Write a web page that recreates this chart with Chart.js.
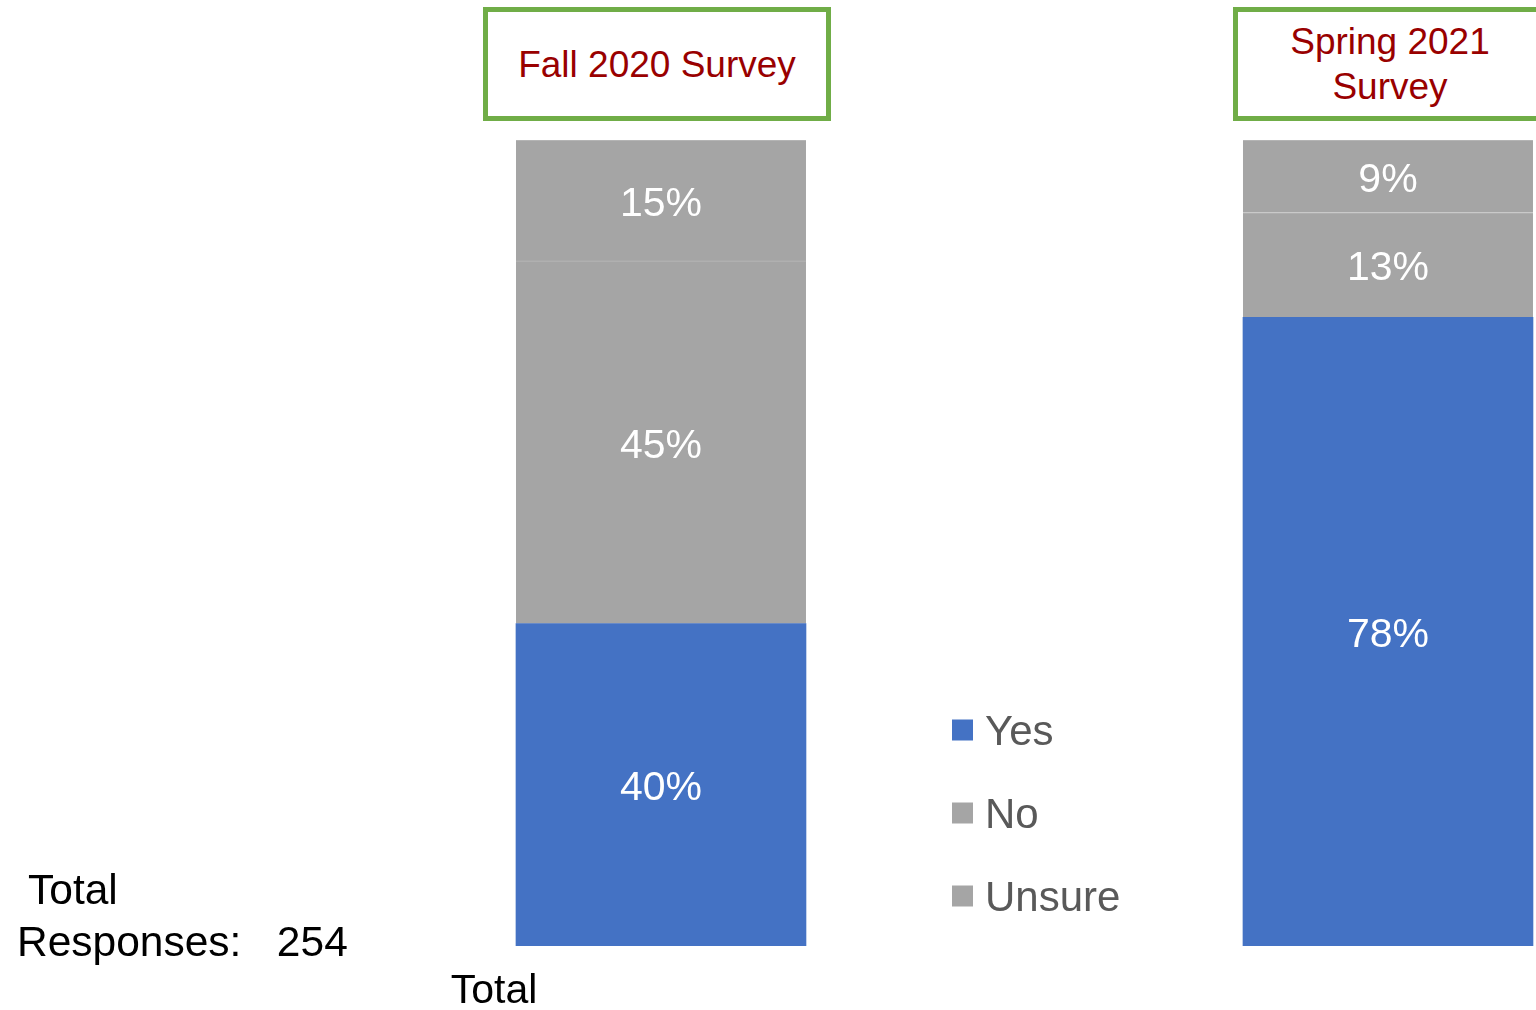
<!DOCTYPE html>
<html>
<head>
<meta charset="utf-8">
<script src="https://cdn.jsdelivr.net/npm/chart.js@4.4.1/dist/chart.umd.min.js"></script>
<style>
  html, body { margin: 0; padding: 0; background: #fff; overflow: hidden; }
  body { width: 1536px; height: 1010px; position: relative; font-family: "Liberation Sans", Arial, sans-serif; }
  #chart { position: absolute; left: 0; top: 0; }
  .survey {
    position: absolute; top: 7px; height: 114px; box-sizing: border-box;
    border: 5px solid #70ad47; background: #fff; color: #990000;
    font-size: 37px; line-height: 45px; text-align: center;
    display: flex; align-items: center; justify-content: center;
  }
  #fall { left: 483px; width: 348px; }
  #spring { left: 1233px; width: 314px; }
  #responses { position: absolute; left: 17px; top: 864px; font-size: 42.5px; line-height: 52px; white-space: pre; color: #000; }
</style>
</head>
<body>
<canvas id="chart" width="1536" height="1010"></canvas>
<div class="survey" id="fall"></div>
<div class="survey" id="spring"></div>
<div id="responses"></div>
<script>
const surveys = ['Fall 2020 Survey', 'Spring 2021 Survey'];
const answers = ['Yes', 'No', 'Unsure'];
const yesPct = [40, 78];
const noPct = [45, 13];
const unsurePct = [15, 9];
const axisLabel = 'Total';
const totalResponses = 254;

const FONT = '"Liberation Sans", Arial, sans-serif';
const colors = ['#4472c4', '#a5a5a5', '#a5a5a5'];
const series = [yesPct, noPct, unsurePct];

document.getElementById('fall').textContent = surveys[0];
document.getElementById('spring').textContent = surveys[1];
document.getElementById('responses').textContent = ' Total\nResponses:   ' + totalResponses;

// white % labels in the middle of each segment
const segLabels = {
  id: 'segLabels',
  afterDatasetsDraw(chart) {
    const ctx = chart.ctx;
    ctx.save();
    ctx.fillStyle = '#fff';
    ctx.font = '41px ' + FONT;
    ctx.textAlign = 'center';
    ctx.textBaseline = 'middle';
    chart.data.datasets.forEach((ds, i) => {
      chart.getDatasetMeta(i).data.forEach((bar, j) => {
        const p = bar.getProps(['x', 'y', 'base'], true);
        ctx.fillText(ds.data[j].y + '%', p.x, (p.y + p.base) / 2 + 4);
      });
    });
    ctx.restore();
  }
};

// legend sitting between the two bars
const sideLegend = {
  id: 'sideLegend',
  afterDraw(chart, args, opts) {
    const ctx = chart.ctx;
    ctx.save();
    ctx.font = '42px ' + FONT;
    ctx.textBaseline = 'middle';
    chart.data.datasets.forEach((ds, i) => {
      const cy = opts.y + i * opts.step;
      ctx.fillStyle = ds.backgroundColor;
      ctx.fillRect(opts.x, cy - 10.5, 21, 21);
      ctx.fillStyle = '#595959';
      ctx.fillText(ds.label, opts.x + 33, cy + 3);
    });
    ctx.restore();
  }
};

new Chart(document.getElementById('chart'), {
  type: 'bar',
  data: {
    datasets: answers.map((a, i) => ({
      label: a,
      data: series[i].map((v, j) => ({ x: j, y: v })),
      backgroundColor: colors[i],
      borderColor: '#bababa',
      borderWidth: i === 0 ? 0 : { top: 1, right: 0, bottom: 0, left: 0 },
      barThickness: 290
    }))
  },
  options: {
    responsive: false,
    animation: false,
    layout: { padding: { top: 140, left: 0, right: 0, bottom: 0 } },
    plugins: {
      legend: { display: false },
      tooltip: { enabled: false },
      sideLegend: { x: 952, y: 730, step: 83 }
    },
    scales: {
      x: {
        type: 'linear',
        stacked: true,
        min: -0.9092,
        max: 1.2036,
        offset: false,
        grid: { display: false, drawTicks: false },
        border: { display: false },
        afterBuildTicks: scale => { scale.ticks = [{ value: 0 }]; },
        afterFit: scale => { scale.height = 64; },
        ticks: {
          callback: () => axisLabel,
          color: '#000',
          font: { size: 41, family: FONT },
          padding: 21,
          labelOffset: -167,
          maxRotation: 0,
          autoSkip: false
        }
      },
      y: { stacked: true, min: 0, max: 100, display: false }
    }
  },
  plugins: [segLabels, sideLegend]
});
</script>
</body>
</html>
